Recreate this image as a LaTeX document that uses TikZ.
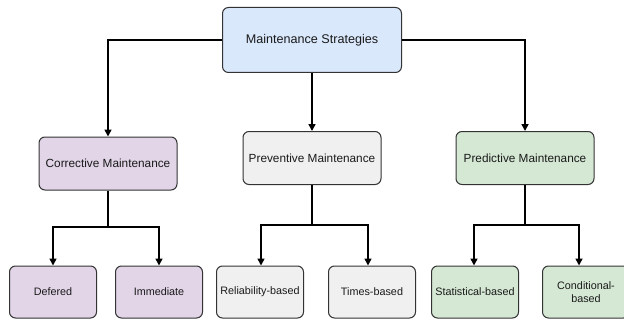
\documentclass[tikz,border=0pt]{standalone}
\usepackage{fontspec}
\setmainfont{Liberation Sans}
\usetikzlibrary{arrows.meta}
\definecolor{edge}{HTML}{333333}
\definecolor{txt}{HTML}{1A1A1A}
\definecolor{fblue}{HTML}{DAE8FC}
\definecolor{fpurple}{HTML}{E1D5E7}
\definecolor{fgray}{HTML}{F0F0F0}
\definecolor{fgreen}{HTML}{D5E8D4}
\begin{document}
\begin{tikzpicture}[x=1pt,y=-1pt,
  box/.style={draw=edge, line width=1pt, rounded corners=6pt, align=center,
    text=txt, inner sep=1pt},
  root/.style={box, fill=fblue, minimum width=179pt, minimum height=65pt, font=\fontsize{12.6}{14}\selectfont},
  mid/.style={box, minimum width=138pt, minimum height=53pt, font=\fontsize{11.8}{13}\selectfont},
  leaf/.style={box, minimum width=87pt, minimum height=52pt, font=\fontsize{10.8}{13}\selectfont},
  link/.style={draw=black, line width=1.6pt, -{Triangle[length=7pt,width=7pt]}}]
\useasboundingbox (0,0) rectangle (624,321);

% top level
\node[root] (ms) at (312,40) {Maintenance Strategies};

% strategy families
\node[mid, fill=fpurple] (cm) at (108,163.5) {Corrective Maintenance};
\node[mid, fill=fgray]   (pm) at (312,158) {Preventive Maintenance};
\node[mid, fill=fgreen]  (pd) at (525,158) {Predictive Maintenance};

% sub-types
\node[leaf, fill=fpurple] (df) at (53,292) {Defered};
\node[leaf, fill=fpurple] (im) at (159,292) {Immediate};
\node[leaf, fill=fgray]   (rb) at (260,292) {Reliability-based};
\node[leaf, fill=fgray]   (tb) at (372,292) {Times-based};
\node[leaf, fill=fgreen]  (sb) at (475,292) {Statistical-based};
\node[leaf, fill=fgreen]  (cb) at (586,292) {Conditional-\\based};

% connectors from the root
\draw[link] (ms.west) -| (cm.north);
\draw[link] (ms.south) -- (pm.north);
\draw[link] (ms.east) -| (pd.north);

% connectors to sub-types
\coordinate (cj) at (108,227);
\coordinate (pj) at (312,225);
\coordinate (dj) at (525,225);
\draw[link] (cm.south) -- (cj) -| (df.north);
\draw[link] (cj) -| (im.north);
\draw[link] (pm.south) -- (pj) -| ([xshift=1pt]rb.north);
\draw[link] (pj) -| ([xshift=-4pt]tb.north);
\draw[link] (pd.south) -- (dj) -| ([xshift=-1pt]sb.north);
\draw[link] (dj) -| ([xshift=-7pt]cb.north);
\end{tikzpicture}
\end{document}
